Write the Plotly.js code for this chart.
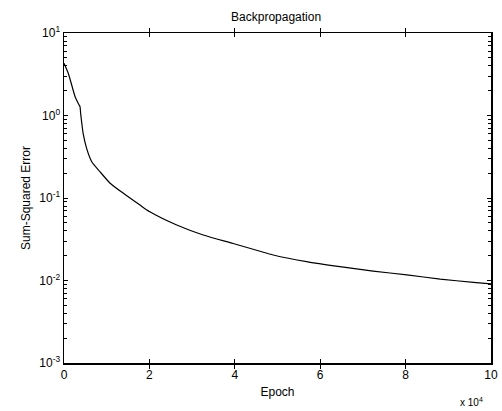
<!DOCTYPE html>
<html>
<head>
<meta charset="utf-8">
<script src="https://cdn.plot.ly/plotly-3.0.1.min.js"></script>
<style>html,body{margin:0;padding:0;background:#fff;}#chart{width:502px;height:411px;}</style>
</head>
<body>
<div id="chart"></div>
<script>
const epochs = [0, 1000, 1800, 2600, 3500, 3750, 3900, 4200, 4500, 5300, 6500, 8400, 10800, 13900, 17800, 20100, 26400, 32600, 39600, 45900, 49000, 56800, 64600, 72400, 80300, 88100, 95900, 100000];
const sse = [4.3, 3.25, 2.34, 1.69, 1.35, 1.28, 1.06, 0.78, 0.60, 0.40, 0.275, 0.209, 0.151, 0.114, 0.082, 0.068, 0.047, 0.0356, 0.0281, 0.0226, 0.0204, 0.0169, 0.0147, 0.0130, 0.0117, 0.0104, 0.0095, 0.0091];
const xTickVals = [0, 20000, 40000, 60000, 80000, 100000];
const xTickText = ['0', '2', '4', '6', '8', '10'];
const yTickVals = [0.001, 0.01, 0.1, 1, 10];
const yTickText = ['10<sup>-3</sup>', '10<sup>-2</sup>', '10<sup>-1</sup>', '10<sup>0</sup>', '10<sup>1</sup>'];

const font = {family: 'Liberation Sans, Arial, sans-serif', size: 12, color: '#000'};

Plotly.newPlot('chart', [{
  x: epochs, y: sse, type: 'scatter', mode: 'lines',
  line: {color: '#000', width: 1.2, shape: 'spline', smoothing: 0.6}, hoverinfo: 'skip'
}, {
  // invisible helper trace so the minor-tick overlay axis is drawn
  x: [epochs[0]], y: [sse[0]], yaxis: 'y2', type: 'scatter', mode: 'lines',
  line: {color: 'rgba(0,0,0,0)'}, hoverinfo: 'skip'
}], {
  width: 502, height: 411,
  margin: {l: 64, r: 11, t: 33, b: 48},
  paper_bgcolor: '#fff', plot_bgcolor: '#fff',
  font: font,
  showlegend: false,
  title: {text: 'Backpropagation', x: 0.55, xanchor: 'center', y: 0.96, yanchor: 'middle', font: font},
  xaxis: {
    range: [0, 100000], tickvals: xTickVals, ticktext: xTickText,
    ticks: 'inside', ticklen: 4, tickcolor: '#000', linecolor: '#000', linewidth: 1.5,
    mirror: 'allticks', showline: true, showgrid: false, zeroline: false,
    title: {text: 'Epoch', font: font, standoff: 6},
    tickfont: font
  },
  yaxis: {
    type: 'log', range: [-3, 1], tickvals: yTickVals, ticktext: yTickText,
    ticks: 'inside', ticklen: 4, tickcolor: '#000', linecolor: '#000', linewidth: 1.5,
    mirror: 'allticks', showline: true, showgrid: false, zeroline: false,
    title: {text: 'Sum-Squared Error', font: font, standoff: 6},
    tickfont: font
  },
  yaxis2: {
    type: 'log', range: [-3, 1], overlaying: 'y', side: 'left',
    tickmode: 'linear', tick0: 0, dtick: 1, showticklabels: false,
    ticks: 'inside', ticklen: 4, tickcolor: '#000', showline: false, mirror: 'allticks',
    showgrid: false, zeroline: false,
    minor: {dtick: 'D1', ticks: 'inside', ticklen: 3, tickwidth: 1, tickcolor: '#000', showgrid: false}
  },
  annotations: [{
    text: 'x 10<sup>4</sup>', xref: 'paper', yref: 'paper', x: 0.955, y: -0.095,
    xanchor: 'center', yanchor: 'top', showarrow: false, font: {family: font.family, size: 10, color: '#000'}
  }]
}, {staticPlot: true});
</script>
</body>
</html>
